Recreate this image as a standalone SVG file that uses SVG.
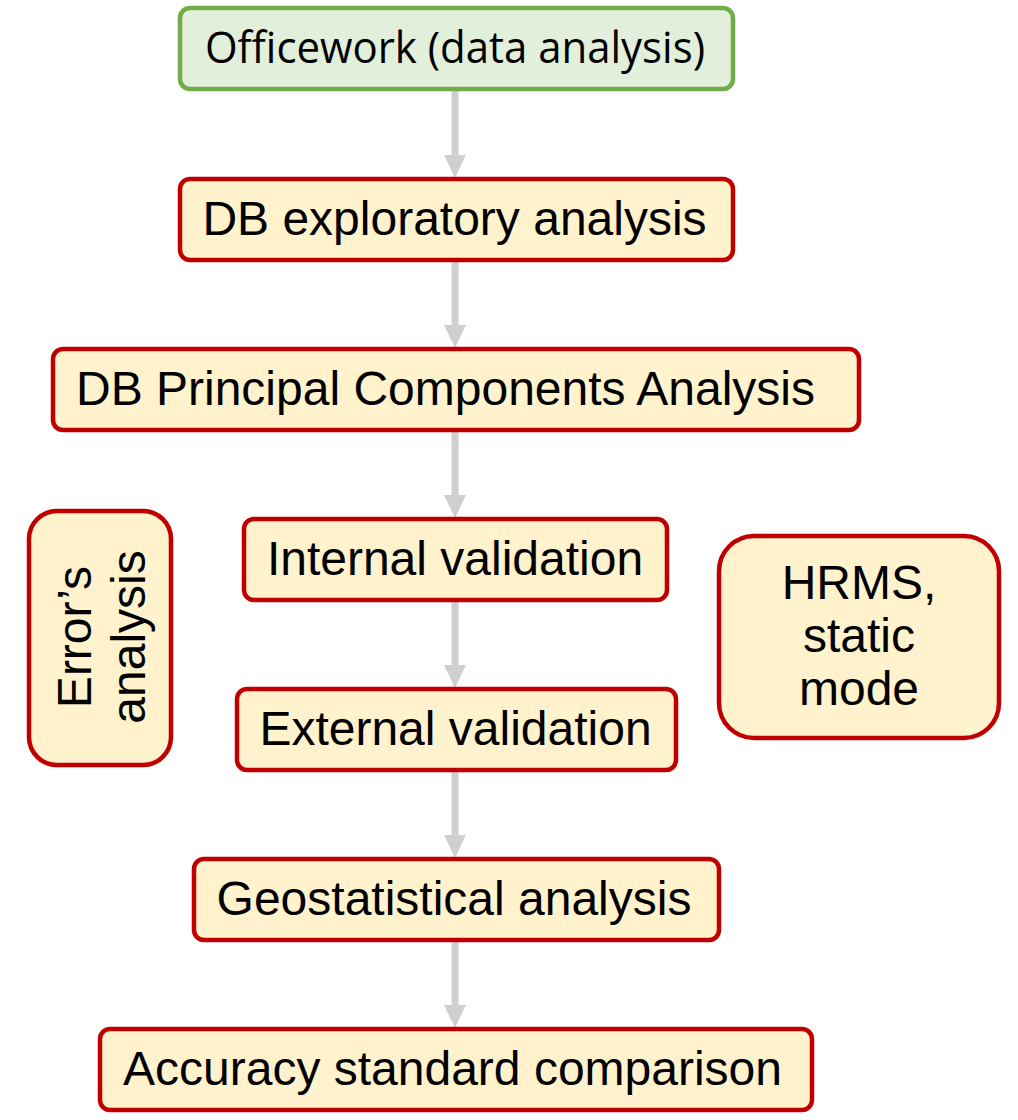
<svg xmlns="http://www.w3.org/2000/svg" width="1018" height="1120" viewBox="0 0 1018 1120">
<style>
.box{fill:#FFF2CC;stroke:#C00000;stroke-width:4.5}
.green{fill:#E2EFDA;stroke:#70AD47;stroke-width:4.5}
.t{font-family:"Liberation Sans",Arial,sans-serif;font-size:48px;fill:#000;text-anchor:middle}
.c{font-family:"Open Sans","Noto Sans",sans-serif;font-size:44px;fill:#000;text-anchor:middle}
.conn{stroke:#D0CECE;stroke-width:7;fill:none}
</style>
<defs>
<marker id="ah" markerUnits="userSpaceOnUse" markerWidth="23" markerHeight="22" viewBox="0 0 23 22" refX="0" refY="11" orient="auto">
<path d="M0,0 L23,11 L0,22 Z" fill="#D0CECE"/>
</marker>
</defs>
<g id="connectors">
<line class="conn" x1="455" y1="90" x2="455" y2="155" marker-end="url(#ah)"/>
<line class="conn" x1="455" y1="261" x2="455" y2="325" marker-end="url(#ah)"/>
<line class="conn" x1="455" y1="431" x2="455" y2="495" marker-end="url(#ah)"/>
<line class="conn" x1="455" y1="601" x2="455" y2="665" marker-end="url(#ah)"/>
<line class="conn" x1="455" y1="771" x2="455" y2="835" marker-end="url(#ah)"/>
<line class="conn" x1="455" y1="941" x2="455" y2="1005" marker-end="url(#ah)"/>
</g>
<g id="officework">
<rect class="green" x="180" y="8" width="553" height="81" rx="10"/>
<text class="c" x="455" y="63" textLength="500" lengthAdjust="spacingAndGlyphs">Officework (data analysis)</text>
</g>
<g id="db-exploratory">
<rect class="box" x="180" y="179" width="553" height="81" rx="10"/>
<text class="t" x="454.5" y="235">DB exploratory analysis</text>
</g>
<g id="db-pca">
<rect class="box" x="53" y="349" width="806" height="81" rx="10"/>
<text class="t" x="445.5" y="405">DB Principal Components Analysis</text>
</g>
<g id="internal-validation">
<rect class="box" x="244" y="519" width="423" height="81" rx="10"/>
<text class="t" x="455" y="575">Internal validation</text>
</g>
<g id="external-validation">
<rect class="box" x="237" y="689" width="439" height="81" rx="10"/>
<text class="t" x="455.5" y="745">External validation</text>
</g>
<g id="geostatistical">
<rect class="box" x="194" y="859" width="525" height="81" rx="10"/>
<text class="t" x="454" y="915">Geostatistical analysis</text>
</g>
<g id="accuracy">
<rect class="box" x="100" y="1029" width="712" height="81" rx="10"/>
<text class="t" x="452.5" y="1085">Accuracy standard comparison</text>
</g>
<g id="errors-analysis">
<rect class="box" x="29" y="511" width="142" height="254" rx="28"/>
<text class="t" transform="translate(91,637) rotate(-90)">Error’s</text>
<text class="t" transform="translate(145,637) rotate(-90)">analysis</text>
</g>
<g id="hrms">
<rect class="box" x="719" y="536" width="280" height="202" rx="35"/>
<text class="t" x="859" y="599">HRMS,</text>
<text class="t" x="859" y="652">static</text>
<text class="t" x="859" y="705">mode</text>
</g>
</svg>
